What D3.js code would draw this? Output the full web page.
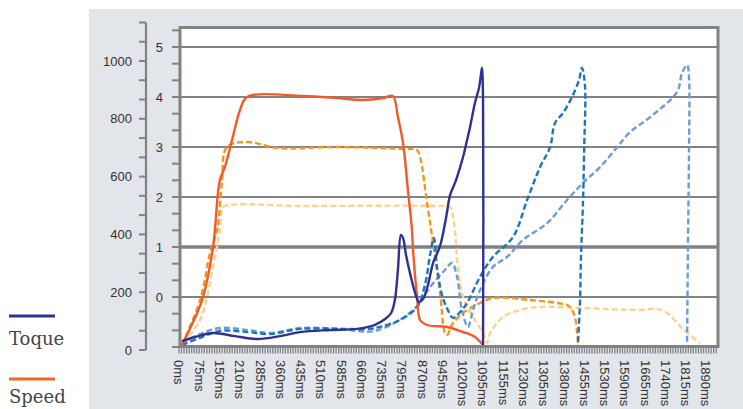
<!DOCTYPE html>
<html>
<head>
<meta charset="utf-8">
<script src="https://cdn.jsdelivr.net/npm/d3@7"></script>
<style>
  body { margin: 0; background: #fff; }
  svg text { font-family: "Liberation Sans", Arial, sans-serif; fill: #333; }
</style>
</head>
<body>
<svg id="chart" width="743" height="409"></svg>
<script>
// x axis categories (sample times, ms)
var msTicks = [0, 75, 150, 210, 285, 360, 435, 510, 585, 660, 735, 795, 870, 945,
  1020, 1095, 1155, 1230, 1305, 1380, 1455, 1530, 1590, 1665, 1740, 1815, 1890];
var xLabels = msTicks.map(function(d) { return d + "ms"; });

// left axes
var torqueTicks = [0, 200, 400, 600, 800, 1000];
var speedTicks = [0, 1, 2, 3, 4, 5];

// torque series [ms, torque]
var toqueA = [[11,31],[59,45],[126,59],[196,48],[277,38],[359,48],[433,62],[544,69],[644,73],
  [710,87],[745,107],[763,128],[774,173],[783,277],[792,398],[799,388],[810,329],[828,253],
  [847,187],[858,166],[873,176],[891,225],[910,301],[936,360],[958,457],[973,536],[995,588],
  [1021,668],[1036,727],[1047,772],[1065,855],[1080,907],[1087,952],[1091,976],[1095,865],[1095,10]];
var toqueB = [[11,17],[78,42],[151,66],[240,62],[322,55],[433,73],[581,73],[692,73],[729,80],
  [789,104],[851,149],[880,225],[899,329],[913,388],[925,284],[943,190],[965,138],[984,111],
  [1010,131],[1036,163],[1084,253],[1124,322],[1191,391],[1243,519],[1291,633],[1328,702],
  [1346,785],[1376,820],[1409,875],[1435,934],[1446,976],[1457,917],[1454,692],[1450,519],
  [1442,311],[1439,173],[1431,17]];
var toqueC = [[11,24],[78,55],[151,76],[240,69],[322,59],[433,76],[581,73],[710,66],[836,138],
  [899,218],[954,277],[980,301],[999,253],[1017,138],[1039,80],[1058,138],[1084,208],[1124,287],
  [1169,322],[1228,381],[1317,439],[1391,519],[1450,578],[1513,633],[1567,702],[1609,754],
  [1683,806],[1783,893],[1801,958],[1820,986],[1827,945],[1827,692],[1823,346],[1820,24]];

// speed series [ms, speed]
var speedA = [[11,-0.96],[67,-0.32],[89,0],[126,1.0],[151,2.34],[166,2.6],[187,3.14],[211,3.74],
  [237,4.0],[444,4.02],[570,3.98],[666,3.94],[740,3.98],[768,4.02],[783,3.6],[799,3.08],
  [817,2.14],[832,1.34],[836,0.94],[851,0],[862,-0.46],[888,-0.56],[962,-0.6],[1021,-0.7],
  [1065,-0.8],[1095,-0.96]];
var speedB = [[11,-0.96],[78,-0.06],[115,0.88],[141,1.34],[157,2.28],[172,3.0],[237,3.1],[348,2.98],
  [570,3.0],[799,2.96],[851,2.94],[862,2.8],[888,1.88],[910,1.08],[936,0.08],[954,-0.72],
  [962,-0.76],[984,-0.52],[1036,-0.26],[1084,-0.12],[1124,-0.02],[1254,-0.06],[1391,-0.16],
  [1402,-0.2],[1420,-0.4],[1431,-0.92]];
var speedC = [[15,-0.92],[78,-0.46],[126,0.6],[151,1.34],[157,1.74],[166,1.82],[444,1.82],[925,1.82],
  [973,1.8],[984,1.6],[991,1.34],[1002,0.6],[1021,0],[1058,-0.4],[1095,-0.72],[1107,-0.92],
  [1116,-0.72],[1154,-0.4],[1217,-0.26],[1291,-0.2],[1439,-0.22],[1646,-0.26],[1709,-0.24],
  [1746,-0.32],[1808,-0.66],[1868,-0.92]];

var svg = d3.select("#chart");

var plot = { left: 180, top: 27.5, right: 718, bottom: 346.5 };
var step = 20.27, x0 = 179;

// grey panel
svg.append("rect")
  .attr("x", 89).attr("y", 9)
  .attr("width", 743 - 89).attr("height", 409 - 9)
  .attr("fill", "#e2e5e9");

// white plot box
svg.append("rect")
  .attr("x", plot.left).attr("y", plot.top)
  .attr("width", plot.right - plot.left).attr("height", plot.bottom - plot.top)
  .attr("fill", "#fff");

// scales
var xScale = d3.scaleLinear()
  .domain(msTicks)
  .range(msTicks.map(function(d, i) { return x0 + i * step; }));
var idxScale = d3.scaleLinear().domain([0, 1]).range([x0, x0 + step]);

var tScale = d3.scaleLinear().domain([0, 1000]).range([350, 61]);
var sScale = d3.scaleLinear().domain([-1, 5]).range([347, 47]);

// gridlines on speed values
svg.append("g").selectAll("line")
  .data(speedTicks).enter().append("line")
  .attr("x1", plot.left).attr("x2", plot.right)
  .attr("y1", d => sScale(d)).attr("y2", d => sScale(d))
  .attr("stroke", "#808285")
  .attr("stroke-width", d => d == 1 ? 3.5 : 2.2);

// torque axis (outer)
var tAxisX = 146;
var tg = svg.append("g");
tg.append("line")
  .attr("x1", tAxisX).attr("x2", tAxisX)
  .attr("y1", tScale(0)).attr("y2", tScale(1133))
  .attr("stroke", "#808285").attr("stroke-width", 2.2);
tg.selectAll(".minor")
  .data(d3.range(0, 1134, 200 / 3)).enter().append("line")
  .attr("x1", tAxisX - 7).attr("x2", tAxisX)
  .attr("y1", d => tScale(d)).attr("y2", d => tScale(d))
  .attr("stroke", "#808285").attr("stroke-width", 2);
tg.selectAll("text")
  .data(torqueTicks).enter().append("text")
  .attr("x", 132).attr("y", d => tScale(d))
  .attr("dy", "0.35em")
  .attr("text-anchor", "end")
  .style("font-size", "13px")
  .text(d => d);

// speed axis (inner)
var sg = svg.append("g");
sg.selectAll(".minor")
  .data(d3.range(-1, 5.4, 1 / 3)).enter().append("line")
  .attr("x1", plot.left - 8).attr("x2", plot.left)
  .attr("y1", d => sScale(d)).attr("y2", d => sScale(d))
  .attr("stroke", "#808285").attr("stroke-width", 2);
sg.selectAll("text")
  .data(speedTicks).enter().append("text")
  .attr("x", 163).attr("y", d => sScale(d))
  .attr("dy", "0.35em")
  .attr("text-anchor", "end")
  .style("font-size", "13px")
  .text(d => d);

// x ticks (dense) + labels
svg.append("g").selectAll("line")
  .data(d3.range(0, 26.6, 1 / 8)).enter().append("line")
  .attr("x1", d => idxScale(d)).attr("x2", d => idxScale(d))
  .attr("y1", plot.bottom).attr("y2", plot.bottom + 7)
  .attr("stroke", "#808285").attr("stroke-width", 1.3);

svg.append("g").selectAll("text")
  .data(msTicks).enter().append("text")
  .attr("transform", d => `translate(${xScale(d)}, 360) rotate(90)`)
  .attr("dy", "0.35em")
  .style("font-size", "13px")
  .text((d, i) => xLabels[i]);

// series
var line = function(yScale) {
  return d3.line()
    .x(d => xScale(d[0]))
    .y(d => yScale(d[1]))
    .curve(d3.curveCatmullRom.alpha(0.5));
};

var series = [
  { data: speedC, y: sScale, color: "#fdd38c", dash: "6,3" },
  { data: speedB, y: sScale, color: "#f7941e", dash: "6,3" },
  { data: toqueC, y: tScale, color: "#6c9bd8", dash: "6,3" },
  { data: toqueB, y: tScale, color: "#1c75bc", dash: "6,3" },
  { data: speedA, y: sScale, color: "#f15a29", dash: null },
  { data: toqueA, y: tScale, color: "#2e3192", dash: null }
];

series.forEach(function(s) {
  svg.append("path")
    .datum(s.data)
    .attr("d", line(s.y))
    .attr("fill", "none")
    .attr("stroke", s.color)
    .attr("stroke-width", 2.4)
    .attr("stroke-dasharray", s.dash);
});

// plot border
svg.append("rect")
  .attr("x", plot.left).attr("y", plot.top)
  .attr("width", plot.right - plot.left).attr("height", plot.bottom - plot.top)
  .attr("fill", "none")
  .attr("stroke", "#808285").attr("stroke-width", 3);

// legend
var legend = [
  { name: "Toque", color: "#2e3192", y: 316, ty: 345 },
  { name: "Speed", color: "#f26522", y: 379, ty: 403 }
];
var lg = svg.append("g");
legend.forEach(function(l) {
  lg.append("line")
    .attr("x1", 9).attr("x2", 55)
    .attr("y1", l.y).attr("y2", l.y)
    .attr("stroke", l.color).attr("stroke-width", 3);
  lg.append("text")
    .attr("x", 9).attr("y", l.ty)
    .style("font-family", "'DejaVu Serif', serif")
    .style("font-size", "18px")
    .style("fill", "#444")
    .text(l.name);
});
</script>
</body>
</html>
